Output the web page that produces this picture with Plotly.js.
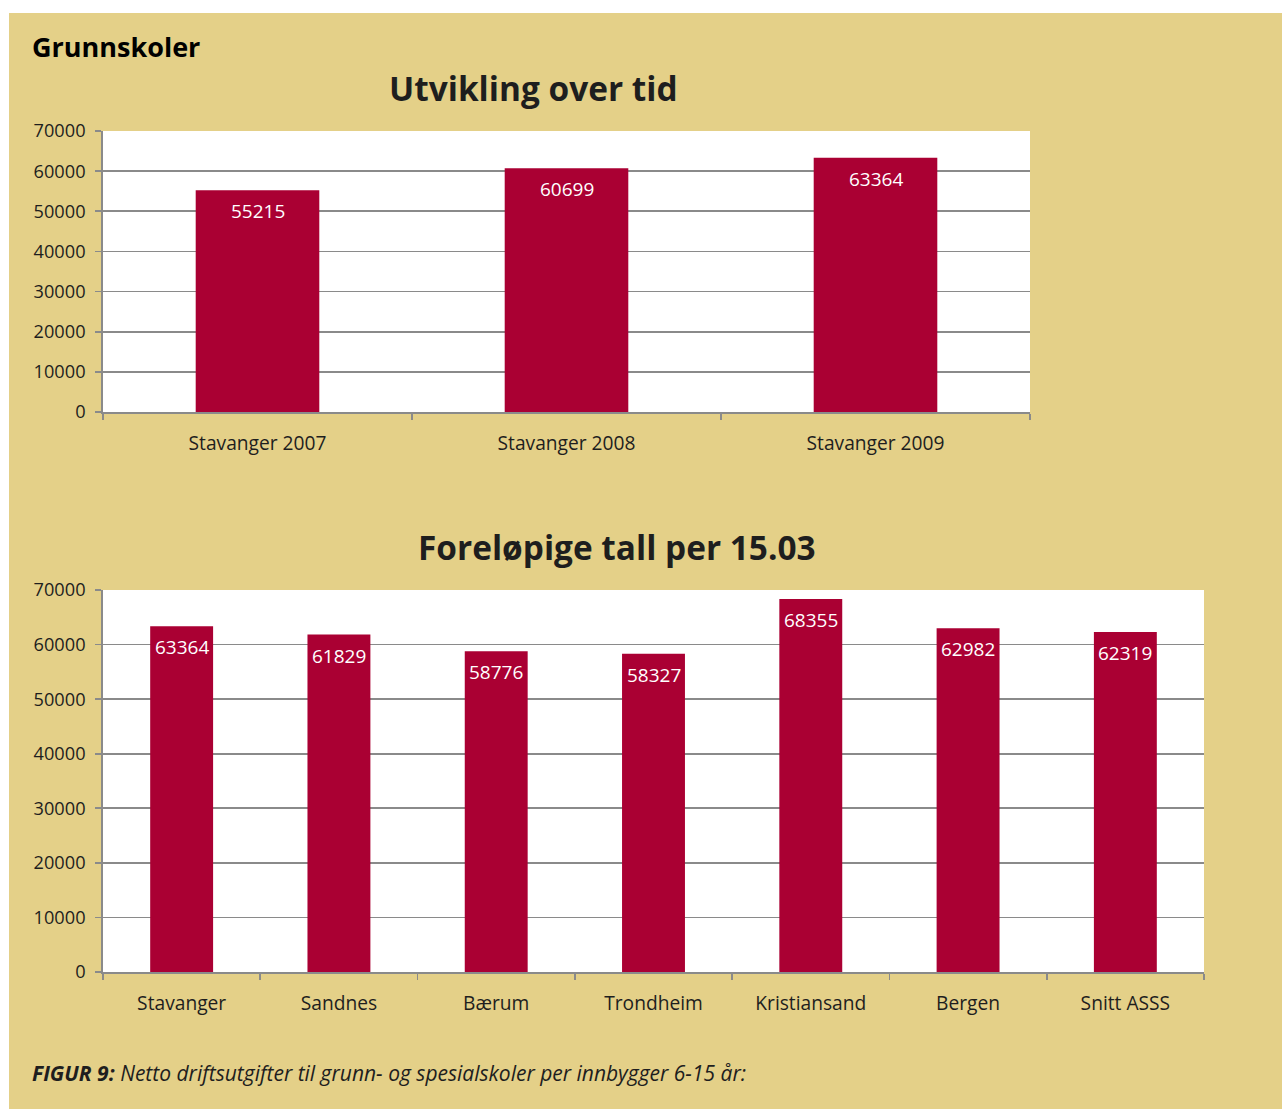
<!DOCTYPE html>
<html>
<head>
<meta charset="utf-8">
<script src="https://cdn.plot.ly/plotly-3.0.1.min.js"></script>
<style>html,body{margin:0;padding:0;background:#fff;}#chart{width:1282px;height:1109px;}</style>
</head>
<body>
<div id="chart"></div>
<script>
// ---- data ----
var pageTitle = "Grunnskoler";
var title1 = "Utvikling over tid";
var cats1 = ["Stavanger 2007", "Stavanger 2008", "Stavanger 2009"];
var vals1 = [55215, 60699, 63364];

var title2 = "Foreløpige tall per 15.03";
var cats2 = ["Stavanger", "Sandnes", "Bærum", "Trondheim", "Kristiansand", "Bergen", "Snitt ASSS"];
var vals2 = [63364, 61829, 58776, 58327, 68355, 62982, 62319];

var yTicks = [0, 10000, 20000, 30000, 40000, 50000, 60000, 70000];
var captionBold = "FIGUR 9:";
var captionText = " Netto driftsutgifter til grunn- og spesialskoler per innbygger 6-15 år:";

// ---- styling ----
var W = 1282, H = 1109;
var FONT = "Open Sans, Noto Sans, sans-serif";
var TAN = "#e4d088";
var BAR = "#aa0033";
var GRID = "#8a8a8a";
var TXT = "#1e1e1e";

function px(x){ return x / W; }
function py(y){ return 1 - y / H; }

var traces = [
  {type: "bar", x: cats1, y: vals1, xaxis: "x", yaxis: "y", width: 0.4,
   marker: {color: BAR, line: {width: 0}}, hoverinfo: "none", showlegend: false},
  {type: "bar", x: cats2, y: vals2, xaxis: "x2", yaxis: "y2", width: 0.4,
   marker: {color: BAR, line: {width: 0}}, hoverinfo: "none", showlegend: false}
];

function yAxis(domain, anchor){
  return {
    domain: domain, anchor: anchor, range: [0, 70000], tickvals: yTicks, tickformat: "d",
    showgrid: true, gridcolor: GRID, gridwidth: 1.8,
    showline: true, linecolor: GRID, linewidth: 1.8,
    ticks: "outside", ticklen: 6, tickwidth: 1.8, tickcolor: GRID,
    tickfont: {family: FONT, size: 18.2, color: TXT}, ticklabelstandoff: 6,
    zeroline: false, fixedrange: true
  };
}
function xAxis(domain, anchor){
  return {
    domain: domain, anchor: anchor, type: "category",
    showline: true, linecolor: GRID, linewidth: 1.8,
    ticks: "outside", tickson: "boundaries", ticklen: 6, tickwidth: 1.8, tickcolor: GRID,
    tickfont: {family: FONT, size: 19.2, color: TXT}, ticklabelstandoff: 13,
    showgrid: false, zeroline: false, fixedrange: true
  };
}

var annotations = [];
annotations.push({xref: "paper", yref: "paper", x: px(30), y: py(47), xanchor: "left", yanchor: "middle",
  text: "<b>" + pageTitle + "</b>", showarrow: false, font: {family: FONT, size: 27, color: "#000"}});
annotations.push({xref: "paper", yref: "paper", x: px(533), y: py(88), xanchor: "center", yanchor: "middle",
  text: "<b>" + title1 + "</b>", showarrow: false, font: {family: FONT, size: 33.4, color: TXT}});
annotations.push({xref: "paper", yref: "paper", x: px(617), y: py(547), xanchor: "center", yanchor: "middle",
  text: "<b>" + title2 + "</b>", showarrow: false, font: {family: FONT, size: 33.4, color: TXT}});
annotations.push({xref: "paper", yref: "paper", x: px(30), y: py(1073), xanchor: "left", yanchor: "middle",
  text: "<b><i>" + captionBold + "</i></b><i>" + captionText + "</i>", showarrow: false,
  font: {family: FONT, size: 21, color: TXT}});

for (var i = 0; i < cats1.length; i++) {
  annotations.push({xref: "x", yref: "y", x: cats1[i], y: vals1[i], yshift: -21, yanchor: "middle",
    text: String(vals1[i]), showarrow: false, font: {family: FONT, size: 19, color: "#fff"}});
}
for (var j = 0; j < cats2.length; j++) {
  annotations.push({xref: "x2", yref: "y2", x: cats2[j], y: vals2[j], yshift: -21, yanchor: "middle",
    text: String(vals2[j]), showarrow: false, font: {family: FONT, size: 19, color: "#fff"}});
}

var layout = {
  width: W, height: H,
  margin: {l: 0, r: 0, t: 0, b: 0, pad: 0},
  paper_bgcolor: TAN, plot_bgcolor: "#ffffff",
  showlegend: false,
  xaxis: xAxis([px(103), px(1030)], "y"),
  yaxis: yAxis([py(412), py(131)], "x"),
  xaxis2: xAxis([px(103), px(1204)], "y2"),
  yaxis2: yAxis([py(972), py(590)], "x2"),
  shapes: [
    {type: "rect", xref: "paper", yref: "paper", x0: 0, x1: 1, y0: py(13), y1: 1,
     fillcolor: "#ffffff", line: {width: 0}, layer: "below"},
    {type: "rect", xref: "paper", yref: "paper", x0: 0, x1: px(9), y0: 0, y1: 1,
     fillcolor: "#ffffff", line: {width: 0}, layer: "below"}
  ],
  annotations: annotations
};

Plotly.newPlot("chart", traces, layout, {staticPlot: true, displayModeBar: false});
</script>
</body>
</html>
